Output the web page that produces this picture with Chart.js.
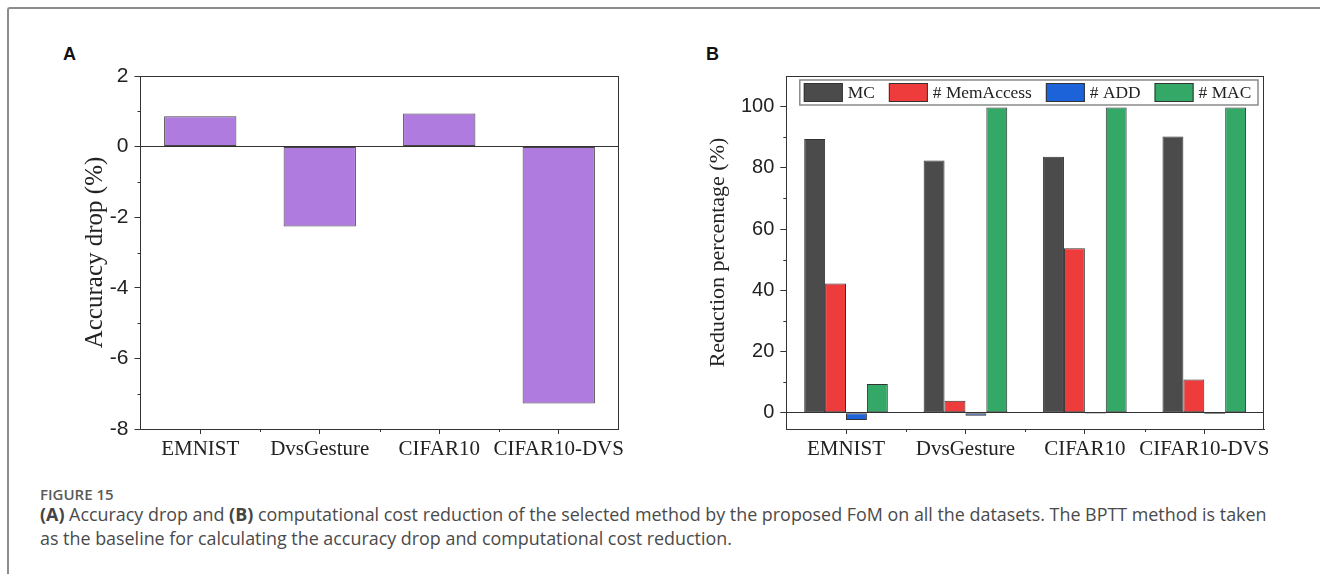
<!DOCTYPE html>
<html>
<head>
<meta charset="utf-8">
<script src="https://cdn.jsdelivr.net/npm/chart.js@4.4.1/dist/chart.umd.min.js"></script>
<style>
  html, body { margin: 0; padding: 0; background: #fff; }
  body { width: 1320px; height: 574px; position: relative; overflow: hidden; }
  #frame { position: absolute; left: 7px; top: 7px; right: -20px; bottom: -20px;
           border-left: 2px solid #8c8c8c; border-top: 2px solid #8c8c8c; border-top-left-radius: 3px; }
  .panel { position: absolute; font: bold 18px "Liberation Sans", Arial, sans-serif; color: #111; }
  canvas { position: absolute; top: 0; }
  #figno { position: absolute; left: 40px; top: 484px; font: 600 15px "Open Sans", sans-serif; color: #5a5a5a; }
  #caption { position: absolute; left: 40px; top: 502px; width: 1275px; font: 17.9px/24px "Open Sans", sans-serif; color: #4a4a4a; white-space: nowrap; }
  #caption b { font-weight: 700; color: #444; }
</style>
</head>
<body>
<div id="frame"></div>
<div class="panel" style="left:63px; top:44px;">A</div>
<div class="panel" style="left:706px; top:44px;">B</div>
<canvas id="chartA" width="660" height="470" style="left:0;"></canvas>
<canvas id="chartB" width="660" height="470" style="left:660px;"></canvas>
<div id="figno">FIGURE 15</div>
<div id="caption"><b>(A)</b> Accuracy drop and <b>(B)</b> computational cost reduction of the selected method by the proposed FoM on all the datasets. The BPTT method is taken<br>as the baseline for calculating the accuracy drop and computational cost reduction.</div>

<script>
// values
const categories = ["EMNIST", "DvsGesture", "CIFAR10", "CIFAR10-DVS"];
const accuracyDrop = [0.86, -2.26, 0.94, -7.28];
const accTicks = [-8, -6, -4, -2, 0, 2];

const mcReduction = [89.4, 82.4, 83.6, 90.2];
const memAccessReduction = [42.2, 3.9, 53.7, 10.9];
const addReduction = [-2.4, -1.0, -0.3, -0.4];
const macReduction = [9.4, 99.7, 99.7, 99.7];
const reductionTicks = [0, 20, 40, 60, 80, 100];

const serif = '"Liberation Serif", "Times New Roman", serif';
const sans = '"Liberation Sans", Arial, sans-serif';
const axisColor = "#333";

// top/right frame plus the short minor ticks
const frameAndMinor = {
  id: "frameAndMinor",
  afterDraw(chart) {
    const { ctx, chartArea: a, scales: { x, y } } = chart;
    ctx.save();
    ctx.strokeStyle = axisColor;
    ctx.lineWidth = 1;
    ctx.beginPath();
    const vals = y.ticks.map(t => t.value);
    for (let i = 0; i < vals.length - 1; i++) {
      const py = Math.round(y.getPixelForValue((vals[i] + vals[i + 1]) / 2)) + 0.5;
      ctx.moveTo(a.left - 3, py);
      ctx.lineTo(a.left, py);
    }
    for (let i = 0; i < categories.length - 1; i++) {
      const px = Math.round(x.getPixelForValue(i + 0.5)) + 0.5;
      ctx.moveTo(px, a.bottom);
      ctx.lineTo(px, a.bottom + 3);
    }
    ctx.moveTo(a.left, Math.round(a.top) + 0.5);
    ctx.lineTo(a.right, Math.round(a.top) + 0.5);
    ctx.moveTo(Math.round(a.right) - 0.5, a.top);
    ctx.lineTo(Math.round(a.right) - 0.5, a.bottom);
    ctx.stroke();
    ctx.restore();
  }
};

// boxed legend inside the plot, like the original
const boxLegend = {
  id: "boxLegend",
  afterDraw(chart) {
    const { ctx, chartArea: a } = chart;
    const left = a.left + 13.5, top = a.top + 4, right = a.right - 6, h = 25;
    ctx.save();
    ctx.fillStyle = "#fff";
    ctx.fillRect(left, top, right - left, h);
    ctx.strokeStyle = "#8a8a8a";
    ctx.lineWidth = 1.5;
    ctx.strokeRect(left, top, right - left, h);
    ctx.font = "17.4px " + serif;
    ctx.textBaseline = "middle";
    let x = left + 4;
    chart.data.datasets.forEach(ds => {
      ctx.fillStyle = ds.backgroundColor;
      ctx.fillRect(x, top + 3, 39, 19);
      ctx.strokeStyle = "#333";
      ctx.lineWidth = 1;
      ctx.strokeRect(x + 0.5, top + 3.5, 38, 18);
      x += 39 + 5;
      ctx.fillStyle = "#222";
      ctx.fillText(ds.label, x, top + h / 2 + 1);
      x += ctx.measureText(ds.label).width + 14;
    });
    ctx.restore();
  }
};

function xAxis() {
  return {
    grid: { offset: false, drawOnChartArea: false, tickLength: 5, color: axisColor },
    border: { color: axisColor, width: 1 },
    ticks: { font: { family: serif, size: 21 }, color: "#222", padding: 3, maxRotation: 0, autoSkip: false },
    afterFit: s => { s.height = 41; }
  };
}

function yAxis(opts) {
  return {
    min: opts.min,
    max: opts.max,
    afterBuildTicks: s => { s.ticks = opts.ticks.map(v => ({ value: v })); },
    grid: {
      drawOnChartArea: true,
      tickLength: 6,
      tickColor: axisColor,
      color: c => (c.tick && c.tick.value === 0 ? axisColor : "rgba(0,0,0,0)")
    },
    border: { color: axisColor, width: 1 },
    ticks: { font: { family: sans, size: opts.tickSize }, color: "#222", padding: 6 },
    title: {
      display: true,
      text: opts.title,
      font: { family: serif, size: opts.titleSize },
      color: "#222",
      padding: { top: opts.titlePad, bottom: 0 }
    },
    afterFit: s => { s.width = opts.width; }
  };
}

new Chart(document.getElementById("chartA"), {
  type: "bar",
  data: {
    labels: categories,
    datasets: [{
      label: "Accuracy drop",
      data: accuracyDrop,
      backgroundColor: "#b07bdf",
      borderColor: "#444",
      borderWidth: 1,
      borderSkipped: false,
      barPercentage: 0.605,
      categoryPercentage: 1
    }]
  },
  options: {
    responsive: false,
    animation: false,
    layout: { padding: { top: 76, right: 41.5, left: 0, bottom: 0 } },
    plugins: { legend: { display: false }, tooltip: { enabled: false } },
    scales: {
      x: xAxis(),
      y: yAxis({ min: -8, max: 2, ticks: accTicks, tickSize: 21, title: "Accuracy drop (%)",
                 titleSize: 25, titlePad: 80, width: 140.5 })
    }
  },
  plugins: [frameAndMinor]
});

new Chart(document.getElementById("chartB"), {
  type: "bar",
  data: {
    labels: categories,
    datasets: [
      { label: "MC", data: mcReduction, backgroundColor: "#4b4b4b" },
      { label: "# MemAccess", data: memAccessReduction, backgroundColor: "#ee3c3c" },
      { label: "# ADD", data: addReduction, backgroundColor: "#1c62d8" },
      { label: "# MAC", data: macReduction, backgroundColor: "#34a866" }
    ].map(d => Object.assign(d, {
      borderColor: "#333",
      borderWidth: 1,
      borderSkipped: false,
      barPercentage: 1,
      categoryPercentage: 0.70
    }))
  },
  options: {
    responsive: false,
    animation: false,
    layout: { padding: { top: 76, right: 56, left: 0, bottom: 0 } },
    plugins: { legend: { display: false }, tooltip: { enabled: false } },
    scales: {
      x: xAxis(),
      y: yAxis({ min: -5.3, max: 110, ticks: reductionTicks, tickSize: 20, title: "Reduction percentage (%)",
                 titleSize: 22, titlePad: 45, width: 126.3 })
    }
  },
  plugins: [frameAndMinor, boxLegend]
});
</script>
</body>
</html>
